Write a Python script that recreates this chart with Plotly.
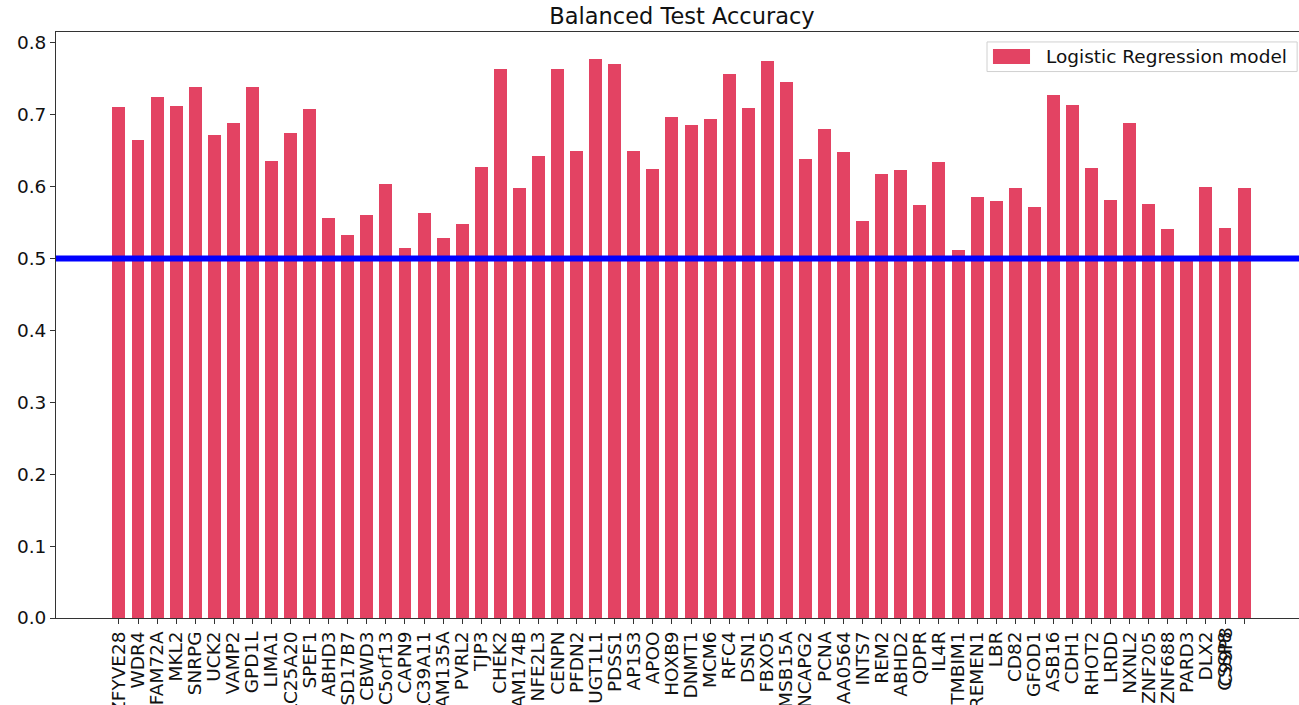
import plotly.graph_objects as go

# Genes (one per bar) and their balanced test accuracy
genes = [
    "ZFYVE28", "WDR4", "FAM72A", "MKL2", "SNRPG", "UCK2", "VAMP2", "GPD1L",
    "LIMA1", "SLC25A20", "SPEF1", "ABHD3", "HSD17B7", "CBWD3", "C5orf13",
    "CAPN9", "SLC39A11", "FAM135A", "PVRL2", "TJP3", "CHEK2", "FAM174B",
    "NFE2L3", "CENPN", "PFDN2", "UGT1L1", "PDSS1", "AP1S3", "APOO", "HOXB9",
    "DNMT1", "MCM6", "RFC4", "DSN1", "FBXO5", "TMSB15A", "NCAPG2", "PCNA",
    "KIAA0564", "INTS7", "REM2", "ABHD2", "QDPR", "IL4R", "TMBIM1", "TREMEN1",
    "LBR", "CD82", "GFOD1", "ASB16", "CDH1", "RHOT2", "LRDD", "NXNL2",
    "ZNF205", "ZNF688", "PARD3", "DLX2", "CSSP8", "",
]
# second label printed on top of the one at the same tick
overlap_label = "C99P8"
overlap_index = 58

accuracy = [
    0.711, 0.665, 0.725, 0.712, 0.739, 0.672, 0.688, 0.738,
    0.635, 0.675, 0.708, 0.556, 0.533, 0.561, 0.604,
    0.514, 0.563, 0.529, 0.548, 0.627, 0.764, 0.598,
    0.643, 0.763, 0.650, 0.777, 0.771, 0.650, 0.625, 0.697,
    0.686, 0.694, 0.757, 0.710, 0.775, 0.746, 0.639, 0.680,
    0.648, 0.552, 0.618, 0.623, 0.575, 0.634, 0.512, 0.585,
    0.580, 0.598, 0.572, 0.728, 0.713, 0.626, 0.581, 0.688,
    0.576, 0.541, 0.499, 0.599, 0.542, 0.598,
]

chance_level = 0.5
series_name = "Logistic Regression model"
y_ticks = [0.0, 0.1, 0.2, 0.3, 0.4, 0.5, 0.6, 0.7, 0.8]

BAR_COLOR = "rgba(220,20,60,0.8)"
FONT = "DejaVu Sans"
TICK_SIZE = 18.5

positions = list(range(len(accuracy)))

fig = go.Figure()
fig.add_trace(go.Bar(
    x=positions, y=accuracy, name=series_name,
    marker=dict(color=BAR_COLOR, line=dict(width=0)),
    width=0.68, showlegend=False,
))

fig.add_hline(y=chance_level, line_color="#0000FF", line_width=6, layer="above")

# overlapping tick label
fig.add_annotation(
    x=overlap_index, xref="x", y=0, yref="paper",
    text=overlap_label, textangle=-90, showarrow=False,
    xanchor="center", yanchor="top", yshift=-8,
    font=dict(family=FONT, size=TICK_SIZE, color="#111"),
)

# legend box drawn as shapes + text
fig.add_shape(type="rect", xref="paper", yref="paper",
              x0=0.7490, x1=0.9985, y0=0.9325, y1=0.9830,
              line=dict(color="#d0d0d0", width=1), fillcolor="rgba(255,255,255,0.85)",
              layer="above")
fig.add_shape(type="rect", xref="paper", yref="paper",
              x0=0.7538, x1=0.7836, y0=0.9454, y1=0.9710,
              line=dict(width=0), fillcolor=BAR_COLOR, layer="above")
fig.add_annotation(x=0.7950, xref="paper", y=0.9585, yref="paper",
                   text=series_name, showarrow=False, xanchor="left", yanchor="middle",
                   font=dict(family=FONT, size=TICK_SIZE, color="#111"))

fig.update_layout(
    width=1299, height=705,
    margin=dict(l=56, r=0, t=32, b=87),
    paper_bgcolor="white", plot_bgcolor="white",
    font=dict(family=FONT, size=TICK_SIZE, color="#111"),
    title=dict(text="Balanced Test Accuracy", x=682 / 1299, xref="container",
               xanchor="center", y=1 - 16 / 705, yref="container", yanchor="middle",
               font=dict(family=FONT, size=22.5, color="#111")),
    bargap=0,
)
fig.update_xaxes(
    range=[-3.3, 61.88], tickmode="array", tickvals=positions, ticktext=genes,
    tickangle=-90, ticks="outside", ticklen=5, tickcolor="#333",
    showline=True, linecolor="#333", linewidth=1, mirror=True,
    showgrid=False, zeroline=False, automargin=False,
    tickfont=dict(family=FONT, size=TICK_SIZE, color="#111"),
)
fig.update_yaxes(
    range=[0, 0.815], tickmode="array", tickvals=y_ticks, tickformat=".1f",
    ticks="outside", ticklen=5, tickcolor="#333",
    showline=True, linecolor="#333", linewidth=1, mirror=False,
    showgrid=False, zeroline=False, automargin=False,
    tickfont=dict(family=FONT, size=TICK_SIZE, color="#111"),
)

fig.write_html("out.html")
